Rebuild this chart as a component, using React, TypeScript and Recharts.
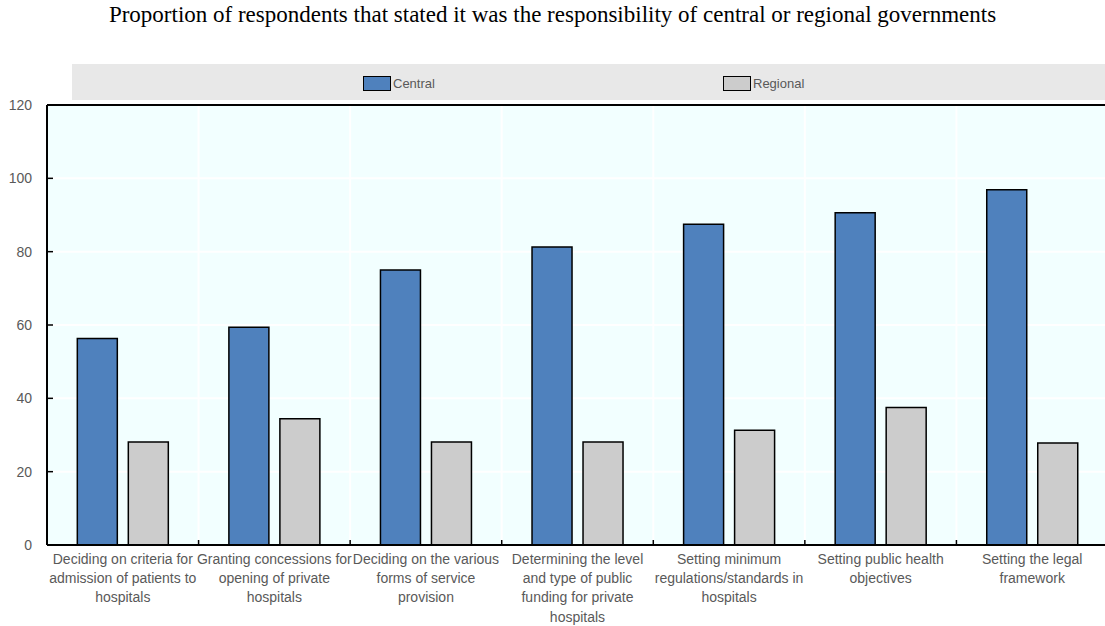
import {
  BarChart, Bar, XAxis, YAxis, CartesianGrid, ReferenceLine,
} from 'recharts'

// Share of respondents (%) naming each level of government as responsible
const categories = [
  'Deciding on criteria for admission of patients to hospitals',
  'Granting concessions for opening of private hospitals',
  'Deciding on the various forms of service provision',
  'Determining the level and type of public funding for private hospitals',
  'Setting minimum regulations/standards in hospitals',
  'Setting public health objectives',
  'Setting the legal framework',
]

// wrapped axis labels, one entry per category
const labelLines = [
  ['Deciding on criteria for', 'admission of patients to', 'hospitals'],
  ['Granting concessions for', 'opening of private', 'hospitals'],
  ['Deciding on the various', 'forms of service', 'provision'],
  ['Determining the level', 'and type of public', 'funding for private', 'hospitals'],
  ['Setting minimum', 'regulations/standards in', 'hospitals'],
  ['Setting public health', 'objectives'],
  ['Setting the legal', 'framework'],
]

const central = [56.3, 59.4, 75.0, 81.3, 87.5, 90.6, 96.9]
const regional = [28.1, 34.4, 28.1, 28.1, 31.3, 37.5, 27.8]

const yTicks = [0, 20, 40, 60, 80, 100, 120]

const data = categories.map((name, i) => ({
  name,
  central: central[i],
  regional: regional[i],
}))

const W = 1108
const H = 626
const Y_AXIS_W = 47
const BAND = (W - Y_AXIS_W) / categories.length

const BLUE = '#4f81bd'
const GREY = '#cccccc'
const TEXT = '#595959'
const FONT = 'Arial, "Liberation Sans", sans-serif'

function YTick({ x, y, payload }: any) {
  return (
    <g>
      <line x1={x} x2={x + 6} y1={y} y2={y} stroke="#000" strokeWidth={1.5} />
      <text x={x - 15} y={y} dy={5} textAnchor="end" fontSize={14} fill={TEXT} fontFamily={FONT}>
        {payload.value}
      </text>
    </g>
  )
}

function XTick({ x, y, payload, index }: any) {
  const lines = labelLines[index ?? payload.index] ?? [payload.value]
  const left = x - BAND / 2
  return (
    <g>
      <line x1={left} x2={left} y1={y} y2={y - 5} stroke="#000" strokeWidth={1.5} />
      <text textAnchor="middle" fontSize={14} fill={TEXT} fontFamily={FONT}>
        {lines.map((l: string, i: number) => (
          <tspan key={i} x={x} y={y + 19 + i * 19.2}>{l}</tspan>
        ))}
      </text>
    </g>
  )
}

function LegendItem({ color, label, left }: { color: string; label: string; left: number }) {
  return (
    <div style={{ position: 'absolute', left, top: 12, display: 'flex', alignItems: 'center' }}>
      <div style={{ width: 26, height: 13, background: color, border: '1.5px solid #000' }} />
      <span style={{ marginLeft: 2, fontSize: 13, color: TEXT, fontFamily: FONT }}>{label}</span>
    </div>
  )
}

export default function App() {
  return (
    <div style={{ position: 'absolute', left: 0, top: 0, width: 1105, height: H, overflow: 'hidden', background: '#fff' }}>
      <div
        style={{
          position: 'absolute', left: 0, top: 2, width: 1105, textAlign: 'center',
          fontFamily: '"Liberation Serif", "Times New Roman", serif', fontSize: 23, color: '#000',
        }}
      >
        Proportion of respondents that stated it was the responsibility of central or regional governments
      </div>

      <div style={{ position: 'absolute', left: 72, top: 64, width: 1040, height: 36, background: '#e8e8e8' }}>
        <LegendItem color={BLUE} label="Central" left={291} />
        <LegendItem color={GREY} label="Regional" left={651} />
      </div>

      <BarChart
        width={W}
        height={H}
        data={data}
        margin={{ top: 105, right: 0, bottom: 0, left: 0 }}
        barCategoryGap="20%"
        barGap={11}
        style={{ position: 'absolute', left: 0, top: 0 }}
      >
        <CartesianGrid
          fill="#f2ffff"
          stroke="#ffffff"
          strokeWidth={2}
          verticalCoordinatesGenerator={({ offset }: any) =>
            categories.map((_, i) => offset.left + i * (offset.width / categories.length))
          }
        />
        <XAxis
          dataKey="name"
          height={81}
          interval={0}
          tickLine={false}
          tickSize={0}
          tickMargin={0}
          axisLine={{ stroke: '#000', strokeWidth: 2 }}
          tick={<XTick />}
        />
        <YAxis
          width={Y_AXIS_W}
          domain={[0, 120]}
          ticks={yTicks}
          interval={0}
          tickLine={false}
          tickSize={0}
          tickMargin={0}
          axisLine={{ stroke: '#000', strokeWidth: 2 }}
          tick={<YTick />}
        />
        <ReferenceLine y={120} stroke="#000" strokeWidth={2} />
        <Bar dataKey="central" fill={BLUE} stroke="#000" strokeWidth={1.5} isAnimationActive={false} />
        <Bar dataKey="regional" fill={GREY} stroke="#000" strokeWidth={1.5} isAnimationActive={false} />
      </BarChart>
    </div>
  )
}
